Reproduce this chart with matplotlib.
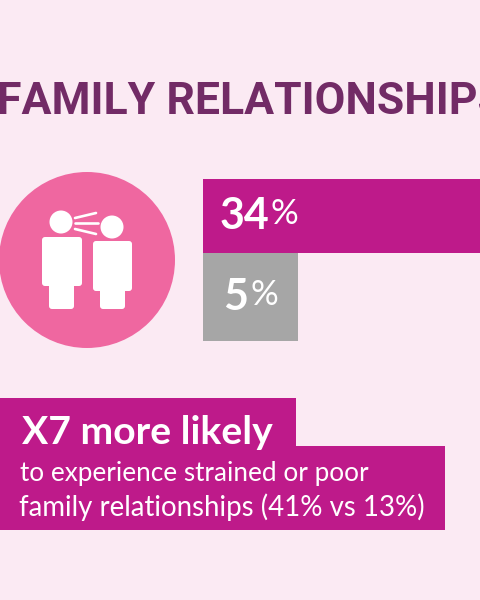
import matplotlib
matplotlib.use("Agg")
import matplotlib.pyplot as plt
from matplotlib import font_manager as fm
from matplotlib.patches import Circle, Rectangle, FancyBboxPatch

title = "FAMILY RELATIONSHIPS"
bar_values = [34, 5]
bar_labels = ["34%", "5%"]
callout_head = "X7 more likely"
callout_lines = ["to experience strained or poor", "family relationships (41% vs 13%)"]

BG = "#FBEAF3"; MAG = "#BE1A8A"; GREY = "#A6A6A6"; PINK = "#EF67A0"; DARK = "#722B66"; W = "#FFFFFF"
FONT = "Lato"
names = {f.name for f in fm.fontManager.ttflist}
TITLE_FONT = "Liberation Sans Narrow" if "Liberation Sans Narrow" in names else "Roboto"

fig = plt.figure(figsize=(4.8, 6), dpi=100, facecolor=BG)

bx = fig.add_axes([203/480, 1-341/600, 277/480, (341-179)/600])
bx.set_xlim(0, 277/19)
bx.set_ylim(341, 179)
bx.axis("off")
bx.barh([216, 297], bar_values, height=[74, 88], color=[MAG, GREY], linewidth=0)

ax = fig.add_axes([0, 0, 1, 1], facecolor="none")
ax.set_xlim(0, 480); ax.set_ylim(600, 0); ax.axis("off")

def rbox(x0, y0, x1, y1, r=3):
    ax.add_patch(FancyBboxPatch((x0+r, y0+r), x1-x0-2*r, y1-y0-2*r,
                 boxstyle=f"round,pad={r},rounding_size={r}", fc=W, ec="none", mutation_aspect=1))

ax.add_patch(Circle((87, 260), 88, fc=PINK, ec="none"))
ax.add_patch(Circle((61, 222), 11.5, fc=W, ec="none"))
ax.add_patch(Circle((112, 227), 11.5, fc=W, ec="none"))
rbox(42, 237, 82, 286); rbox(49, 270, 74, 309)
rbox(93, 241, 132, 291); rbox(100, 275, 125, 309)
for (x0, y0, x1, y1) in [(75, 218, 96, 213), (75, 223, 98, 223), (75, 229, 96, 234)]:
    ax.plot([x0, x1], [y0, y1], color=W, lw=1.9, solid_capstyle="round")

ax.add_patch(Rectangle((0, 398), 296, 50, fc=MAG, ec="none"))
ax.add_patch(Rectangle((0, 446), 445, 84, fc=MAG, ec="none"))

ax.text(-3, 102, title, color=DARK, fontsize=32, fontweight="bold", family=TITLE_FONT, va="center", ha="left")
ax.text(220, 216, bar_labels[0][:2], color=W, fontsize=31, fontweight="bold", family=FONT, va="center")
ax.text(271, 214, "%", color=W, fontsize=25, family=FONT, va="center")
ax.text(223, 297, bar_labels[1][:1], color=W, fontsize=31, fontweight="bold", family=FONT, va="center")
ax.text(250, 295, "%", color=W, fontsize=25, family=FONT, va="center")
ax.text(22, 433, callout_head, color=W, fontsize=28.2, fontweight="bold", family=FONT, va="center")
ax.text(20, 474, callout_lines[0], color=W, fontsize=18.8, family=FONT, va="center")
ax.text(19, 507, callout_lines[1], color=W, fontsize=19.9, family=FONT, va="center")

fig.savefig("out.png", dpi=100, facecolor=BG)
